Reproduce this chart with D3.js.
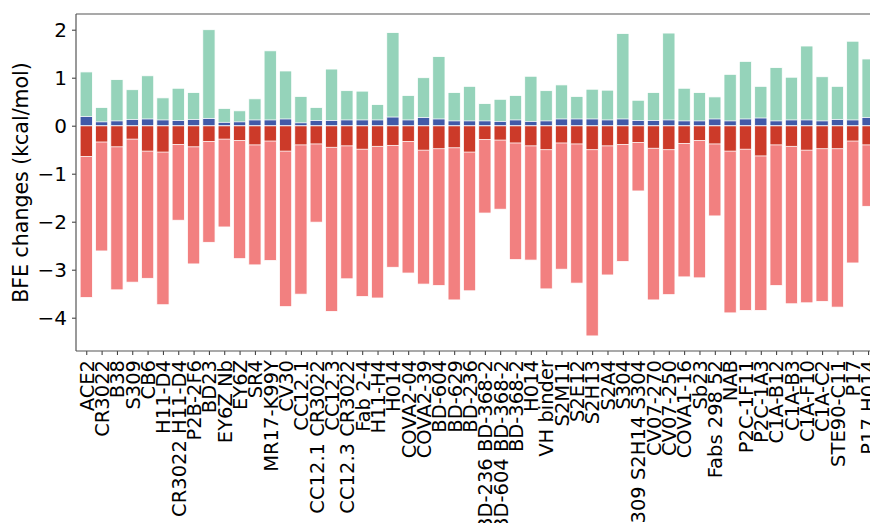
<!DOCTYPE html>
<html>
<head>
<meta charset="utf-8">
<script src="https://cdn.jsdelivr.net/npm/d3@7"></script>
<style>
  html, body { margin: 0; padding: 0; background: #fff; overflow: hidden; }
  svg { display: block; }
  text { font-family: "DejaVu Sans", sans-serif; fill: #000; }
</style>
</head>
<body>
<svg id="chart" width="870" height="523"></svg>
<script>
const categories = ["ACE2","CR3022","B38","S309","CB6","H11-D4","CR3022 H11-D4","P2B-2F6","BD23","EY6Z Nb","EY6Z","SR4","MR17-K99Y","CV30","CC12.1","CC12.1 CR3022","CC12.3","CC12.3 CR3022","Fab 2-4","H11-H4","H014","COVA2-04","COVA2-39","BD-604","BD-629","BD-236","BD-236 BD-368-2","BD-604 BD-368-2","BD-368-2","H014","VH binder","S2M11","S2E12","S2H13","S2A4","S304","S309 S2H14 S304","CV07-270","CV07-250","COVA1-16","Sb23","Fabs 298 52","NAB","P2C-1F11","P2C-1A3","C1A-B12","C1A-B3","C1A-F10","C1A-C2","STE90-C11","P17","P17 H014"];

// positive contributions (total, green) and small positive part (blue)
const positiveTotal = [1.12,0.38,0.96,0.75,1.04,0.58,0.78,0.69,2.00,0.36,0.31,0.56,1.56,1.14,0.61,0.38,1.18,0.73,0.72,0.44,1.94,0.63,1.00,1.44,0.69,0.82,0.46,0.55,0.63,1.03,0.73,0.85,0.61,0.76,0.74,1.92,0.53,0.69,1.93,0.78,0.69,0.60,1.07,1.34,0.82,1.21,1.01,1.66,1.02,0.82,1.76,1.39];
const positiveSmall = [0.19,0.08,0.10,0.13,0.14,0.12,0.11,0.13,0.15,0.07,0.08,0.12,0.12,0.14,0.06,0.11,0.11,0.12,0.12,0.12,0.18,0.12,0.17,0.14,0.10,0.10,0.10,0.09,0.12,0.09,0.10,0.14,0.14,0.14,0.12,0.14,0.11,0.11,0.12,0.10,0.10,0.14,0.10,0.14,0.16,0.10,0.12,0.12,0.10,0.13,0.12,0.17];
// negative contributions: small part (dark red) and total (pink)
const negativeSmall = [-0.64,-0.34,-0.44,-0.28,-0.53,-0.55,-0.39,-0.44,-0.33,-0.28,-0.31,-0.40,-0.32,-0.53,-0.40,-0.38,-0.45,-0.42,-0.49,-0.43,-0.41,-0.33,-0.51,-0.48,-0.46,-0.55,-0.29,-0.30,-0.36,-0.42,-0.50,-0.36,-0.38,-0.50,-0.42,-0.39,-0.35,-0.47,-0.50,-0.37,-0.31,-0.38,-0.53,-0.49,-0.63,-0.40,-0.43,-0.51,-0.48,-0.48,-0.32,-0.40];
const negativeTotal = [-3.58,-2.61,-3.42,-3.26,-3.18,-3.73,-1.97,-2.88,-2.43,-2.11,-2.77,-2.90,-2.81,-3.77,-3.51,-2.01,-3.87,-3.19,-3.56,-3.59,-2.95,-3.07,-3.30,-3.33,-3.63,-3.44,-1.82,-1.74,-2.79,-2.80,-3.40,-2.99,-3.28,-4.38,-3.11,-2.83,-1.36,-3.63,-3.52,-3.15,-3.17,-1.88,-3.90,-3.85,-3.85,-3.33,-3.71,-3.69,-3.66,-3.78,-2.86,-1.68];

const yTicks = [-4,-3,-2,-1,0,1,2];
const yLabel = "BFE changes (kcal/mol)";

const colors = { posTotal: "#95d3ba", posSmall: "#415aa8", negSmall: "#cc3a29", negTotal: "#f28080" };

(function () {
  const svg = d3.select("#chart");
  const plotLeft = 76, plotTop = 14, plotBottom = 351;
  const step = 15.33;
  const barW = 0.8;

  const idx = d3.range(categories.length);
  const x = d3.scaleLinear().domain([-0.67, categories.length - 0.33])
    .range([plotLeft, plotLeft + (categories.length + 0.34) * step]);
  const y = d3.scaleLinear().domain([-4.694, 2.327]).range([plotBottom, plotTop]);

  const g = svg.append("g");

  function drawBars(values, color) {
    g.append("g").selectAll("rect").data(idx).join("rect")
      .attr("x", i => x(i - barW / 2))
      .attr("width", i => x(i + barW / 2) - x(i - barW / 2))
      .attr("y", i => Math.min(y(values[i]), y(0)))
      .attr("height", i => Math.abs(y(values[i]) - y(0)))
      .attr("fill", color)
      .attr("stroke", "#fff")
      .attr("stroke-width", 0.8);
  }
  drawBars(negativeTotal, colors.negTotal);
  drawBars(negativeSmall, colors.negSmall);
  drawBars(positiveTotal, colors.posTotal);
  drawBars(positiveSmall, colors.posSmall);

  // y axis
  const yAxis = svg.append("g").attr("transform", `translate(${plotLeft},0)`)
    .call(d3.axisLeft(y).tickValues(yTicks).tickSize(4).tickPadding(5)
      .tickFormat(d => d < 0 ? "\u2212" + Math.abs(d) : String(d)));
  yAxis.select(".domain").remove();
  yAxis.selectAll("line").attr("stroke", "#333");
  yAxis.selectAll("text").style("font-size", "20px").style("font-family", "DejaVu Sans").attr("fill", "#000");

  // x axis
  const xAxis = svg.append("g").attr("transform", `translate(0,${plotBottom})`)
    .call(d3.axisBottom(x).tickValues(idx).tickSize(4).tickFormat(i => categories[i]));
  xAxis.select(".domain").remove();
  xAxis.selectAll("line").attr("stroke", "#333");
  xAxis.selectAll("text")
    .style("font-size", "19.5px")
    .style("font-family", "DejaVu Sans")
    .attr("fill", "#000")
    .style("text-anchor", "end")
    .attr("x", -9)
    .attr("y", 0)
    .attr("dy", "0.35em")
    .attr("transform", "rotate(-90)");

  // spines
  const xRight = x(categories.length - 0.33);
  svg.append("line").attr("x1", plotLeft).attr("x2", plotLeft).attr("y1", plotTop).attr("y2", plotBottom).attr("stroke", "#555").attr("stroke-width", 1.2);
  svg.append("line").attr("x1", plotLeft).attr("x2", xRight).attr("y1", plotTop).attr("y2", plotTop).attr("stroke", "#555").attr("stroke-width", 1.2);
  svg.append("line").attr("x1", plotLeft).attr("x2", xRight).attr("y1", plotBottom).attr("y2", plotBottom).attr("stroke", "#555").attr("stroke-width", 1.2);

  // y label
  svg.append("text")
    .attr("transform", `translate(28,${(plotTop + plotBottom) / 2}) rotate(-90)`)
    .attr("text-anchor", "middle")
    .style("font-size", "20.5px")
    .text(yLabel);
})();
</script>
</body>
</html>
